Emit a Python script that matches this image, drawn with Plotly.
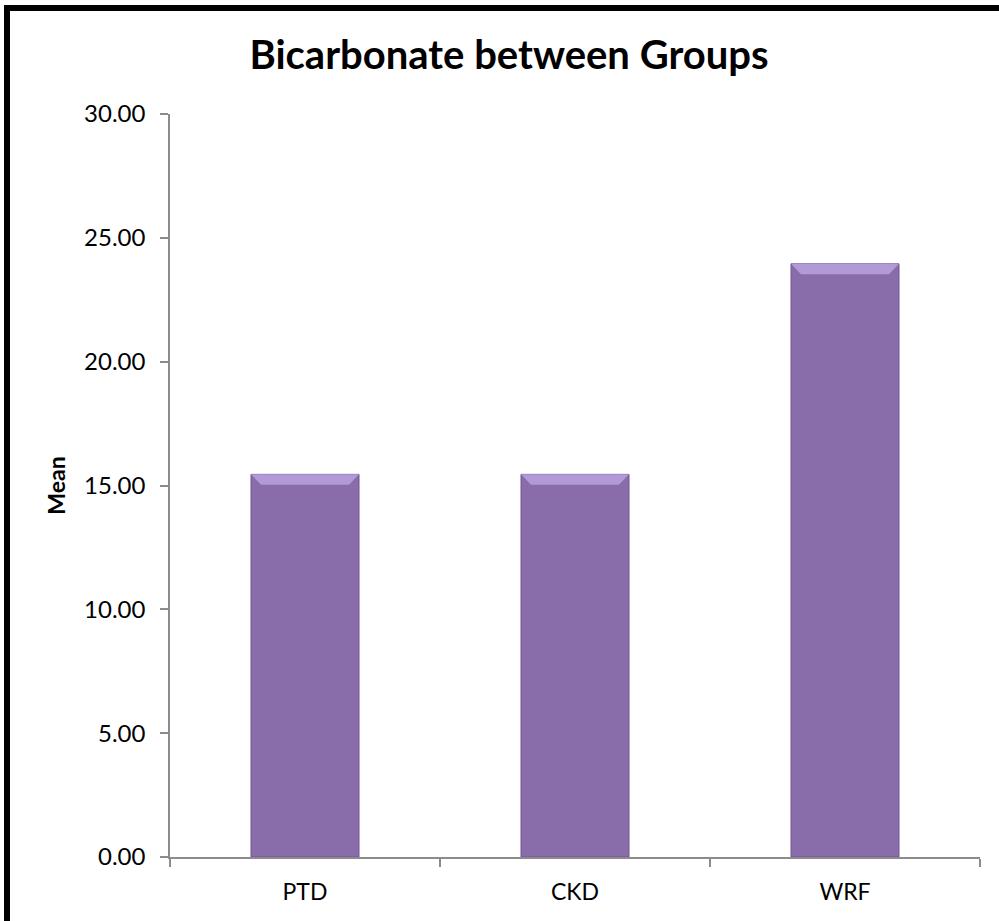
import plotly.graph_objects as go

# Group means of serum bicarbonate
groups = ["PTD", "CKD", "WRF"]
means = [15.45, 15.45, 23.95]
y_ticks = [0, 5, 10, 15, 20, 25, 30]
y_tick_text = ["0.00", "5.00", "10.00", "15.00", "20.00", "25.00", "30.00"]

FONT = "Lato, 'Open Sans', sans-serif"
BAR_FILL = "#896DAA"
BAR_EDGE = "#6F5792"
BEVEL = "#B29AD6"

W, H = 999, 921
L, R, T, B = 170, 19, 114, 64

fig = go.Figure(
    go.Bar(
        x=groups,
        y=means,
        width=0.4,
        marker=dict(color=BAR_FILL, line=dict(color=BAR_EDGE, width=1)),
        hoverinfo="x+y",
    )
)

# light bevel along the top of each bar
half = 0.2
inset_x = 0.037
inset_y = 0.42
shapes = []
for i, v in enumerate(means):
    path = (
        f"M {i - half} {v} L {i + half} {v} "
        f"L {i + half - inset_x} {v - inset_y} L {i - half + inset_x} {v - inset_y} Z"
    )
    shapes.append(dict(type="path", path=path, xref="x", yref="y",
                       fillcolor=BEVEL, line=dict(width=0), layer="above"))

# outer chart frame
pw, ph = W - L - R, H - T - B
def px_to_paper_x(px):
    return (px - L) / pw
def px_to_paper_y(py):
    return (H - B - py) / ph
shapes.append(dict(type="rect", xref="paper", yref="paper",
                   x0=px_to_paper_x(7), x1=px_to_paper_x(1012),
                   y0=px_to_paper_y(935), y1=px_to_paper_y(8),
                   line=dict(color="black", width=6), fillcolor="rgba(0,0,0,0)"))

fig.update_layout(
    width=W, height=H,
    margin=dict(l=L, r=R, t=T, b=B),
    paper_bgcolor="white", plot_bgcolor="white",
    font=dict(family=FONT, color="black", size=24),
    showlegend=False,
    shapes=shapes,
    title=dict(text="<b>Bicarbonate between Groups</b>",
               x=509 / W, xanchor="center", xref="container",
               y=1 - 55 / H, yanchor="middle", yref="container",
               font=dict(family=FONT, size=40, color="black")),
    xaxis=dict(
        type="category",
        range=[-0.5, 2.5],
        showline=True, linecolor="#8C8C8C", linewidth=1.5,
        ticks="outside", ticklen=8, tickcolor="#8C8C8C", tickwidth=1.5,
        tickson="boundaries",
        ticklabelstandoff=14,
        showgrid=False, zeroline=False,
        tickfont=dict(size=23),
    ),
    yaxis=dict(
        range=[0, 30],
        tickvals=y_ticks, ticktext=y_tick_text,
        showline=True, linecolor="#8C8C8C", linewidth=1.5,
        ticks="outside", ticklen=8, tickcolor="#8C8C8C", tickwidth=1.5,
        ticklabelstandoff=10,
        showgrid=False, zeroline=False,
        tickfont=dict(size=24),
        title=dict(text="<b>Mean</b>", font=dict(size=23), standoff=12),
    ),
)

fig.write_html("out.html")
